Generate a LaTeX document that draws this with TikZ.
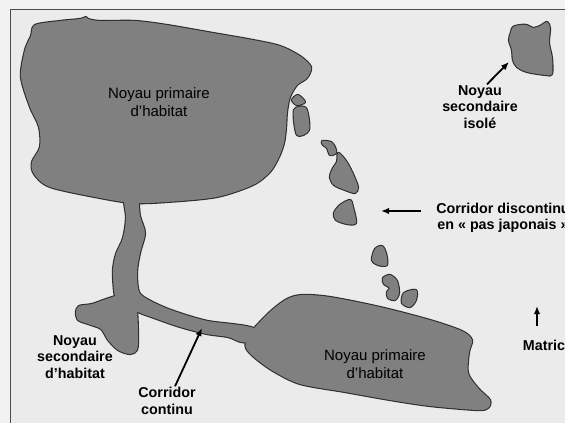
\documentclass[tikz,border=0pt]{standalone}
\usepackage{fontspec}
\setmainfont{Liberation Sans}
\usepackage{tikz}
\usetikzlibrary{arrows.meta,positioning}
\definecolor{patchgray}{RGB}{128,128,128}
\definecolor{edgegray}{RGB}{45,45,45}
\definecolor{matrixbg}{RGB}{235,235,235}
\definecolor{framegray}{RGB}{75,75,75}
\tikzstyle{patchedge}=[draw=edgegray,line width=2.2pt,line join=round]
\tikzstyle{patchfill}=[fill=patchgray]
\tikzstyle{lblin}=[align=center,inner sep=1pt,font=\fontsize{15}{18}\selectfont]
\tikzstyle{lblout}=[align=center,inner sep=1pt,font=\fontsize{14.3}{16.5}\selectfont\bfseries]
\tikzstyle{arrow}=[-{Latex[length=8pt,width=6.5pt]},line width=1.8pt,draw=black]
% habitat patches (pixel coordinates, y downwards)
\newcommand{\coreTop}{plot[smooth cycle] coordinates {(35,25) (60,21) (80,19) (86,17) (88,19) (100,21)
  (135,21) (167,25) (213,33) (253,40) (280,46) (300,56) (311,67) (307,78) (297,85) (290,97)
  (287,112) (286,128) (284,143) (279,157) (270,172) (253,185) (217,197) (167,202) (133,203)
  (100,198) (50,187) (34,174) (32,162) (40,147) (39,127) (30,107) (21,77) (25,50) (31,36)}}
\newcommand{\coreBottom}{plot[smooth cycle] coordinates {(287,299) (302,295) (330,297) (380,307)
  (430,320) (462,331) (472,340) (469,352) (468,373) (478,388) (490,400) (488,408) (477,410)
  (430,406) (390,400) (345,392) (300,384) (273,371) (255,358) (246,348) (247,337) (256,326) (272,310)}}
\newcommand{\corridor}{plot[smooth cycle] coordinates {(124,195) (126,218) (123,238) (116,254)
  (113,270) (114,290) (117,298) (136,311) (154,318) (180,327) (207,334) (228,337) (241,342)
  (252,341) (254,329) (246,326) (232,324) (208,321) (186,315) (166,308) (149,300) (139,292)
  (137,272) (140,253) (145,233) (140,216) (137,195)}}
\newcommand{\coreSec}{plot[smooth cycle] coordinates {(79,306) (92,304) (106,299) (120,295)
  (134,296) (137,310) (138,335) (137,350) (130,354) (118,350) (108,340) (101,329) (88,324)
  (78,320) (76,312)}}
\newcommand{\coreIso}{plot[smooth cycle] coordinates {(513,27) (520,25) (527,25) (533,28)
  (540,26) (547,22) (550,28) (549,43) (552,58) (552,74) (546,75) (527,72) (517,67) (513,60)
  (512,50) (509,40) (511,32)}}
\newcommand{\stepA}{plot[smooth cycle] coordinates {(292,100) (298,95) (305,102) (297,105)}}
\newcommand{\stepB}{plot[smooth cycle] coordinates {(294,110) (306,108) (309,130) (297,135)}}
\newcommand{\stepC}{plot[smooth cycle] coordinates {(322,141) (331,142) (335,147) (336,153)
  (330,155) (327,148) (323,145)}}
\newcommand{\stepD}{plot[smooth cycle] coordinates {(338,153) (343,157) (348,164) (353,174)
  (358,187) (355,193) (345,190) (334,185) (330,177) (333,168) (337,162)}}
\newcommand{\stepE}{plot[smooth cycle] coordinates {(334,213) (340,205) (350,200) (353,207)
  (356,223) (347,224) (336,220)}}
\newcommand{\stepF}{plot[smooth cycle] coordinates {(372,260) (375,249) (382,246) (386,253)
  (387,265) (378,265)}}
\newcommand{\stepG}{plot[smooth cycle] coordinates {(383,278) (390,275) (397,281) (399,293)
  (395,300) (388,298) (387,292) (390,288) (384,284)}}
\newcommand{\stepH}{plot[smooth cycle] coordinates {(404,293) (416,290) (416,300) (410,307) (402,303)}}

\begin{document}
\begin{tikzpicture}[x=1pt,y=-1pt]
\useasboundingbox (0,0) rectangle (565,423);
\clip (0,0) rectangle (565,423);
\fill[white!95!black] (0,0) rectangle (565,423);
\fill[matrixbg] (10.5,9.5) rectangle (566,424);
\draw[framegray,line width=1.5pt] (10.5,424) -- (10.5,9.5) -- (566,9.5);

% patches: outlines first, then fills, so joined patches merge
\foreach \s in {\coreTop,\coreBottom,\corridor,\coreSec,\coreIso,\stepA,\stepB,\stepC,\stepD,\stepE,\stepF,\stepG,\stepH}
  \draw[patchedge] \s;
\foreach \s in {\coreTop,\coreBottom,\corridor,\coreSec,\coreIso,\stepA,\stepB,\stepC,\stepD,\stepE,\stepF,\stepG,\stepH}
  \fill[patchfill] \s;

% labels
\node[lblin] (primTop) at (159,102) {Noyau primaire\\d’habitat};
\node[lblin] (primBot) at (375,364) {Noyau primaire\\d’habitat};
\node[lblout] (secHab) at (75,357) {Noyau\\secondaire\\d’habitat};
\node[lblout] (corCont) at (167,401) {Corridor\\continu};
\node[lblout] (secIso) at (480,107) {Noyau\\secondaire\\isolé};
\node[lblout] (corDisc) at (503,218) {Corridor discontinu\\en « pas japonais »};
\node[lblout] (matrice) at (548,345) {Matrice};

% arrows
\coordinate (isoHead) at (509,62);
\coordinate (contHead) at (202,328);
\coordinate (discTail) at (421,211);
\coordinate (discHead) at (381,211);
\coordinate (matTail) at (537,326);
\coordinate (matHead) at (537,306);
\draw[arrow] ([xshift=7pt]secIso.north) -- (isoHead);
\draw[arrow] ([xshift=8pt]corCont.north) -- (contHead);
\draw[arrow] (discTail) -- (discHead);
\draw[arrow] (matTail) -- (matHead);
\end{tikzpicture}
\end{document}
